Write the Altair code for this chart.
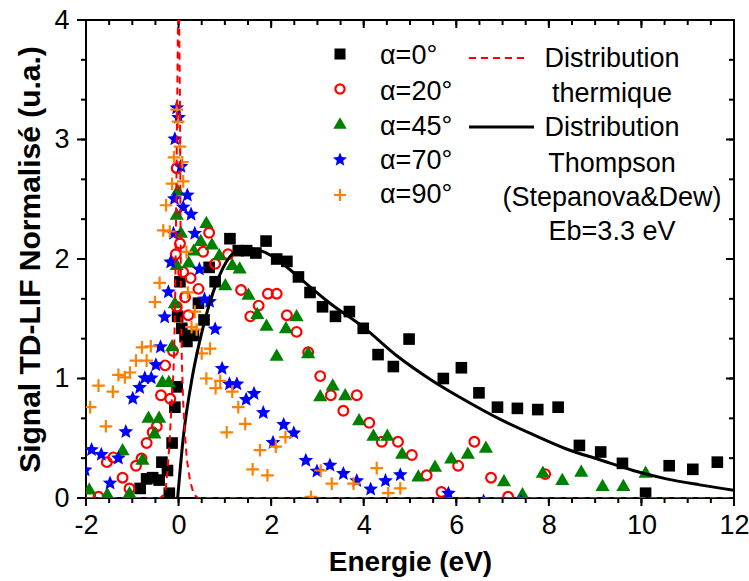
import math
import altair as alt
import pandas as pd

# ---------------- data ----------------
e_0 = [-0.83, -0.69, -0.56, -0.42, -0.36, -0.24, -0.20, -0.14, -0.08, -0.03,
       -0.02, 0.03, 0.07, 0.14, 0.18, 0.32, 0.43, 0.55, 0.66, 0.79,
       1.11, 1.29, 1.47, 1.67, 1.89, 2.12, 2.34, 2.59, 2.84, 3.11,
       3.39, 3.69, 3.99, 4.31, 4.64, 4.98, 5.72, 6.11, 6.49, 6.89,
       7.32, 7.76, 8.20, 8.66, 9.12, 9.59, 10.09, 10.60, 11.11, 11.64]
s_0 = [0.08, 0.16, 0.17, 0.15, 0.30, 0.23, 0.04, 0.46, 0.76, 0.93,
       1.52, 1.81, 1.42, 1.35, 1.31, 1.36, 1.63, 1.49, 1.93, 1.81,
       2.17, 2.07, 2.07, 2.05, 2.15, 2.00, 1.98, 1.85, 1.72, 1.60,
       1.52, 1.56, 1.42, 1.20, 1.10, 1.33, 1.00, 1.09, 0.88, 0.76,
       0.75, 0.74, 0.76, 0.44, 0.385, 0.29, 0.04, 0.27, 0.24, 0.30]

e_20 = [-1.91, -1.73, -1.55, -1.41, -1.21, -1.06, -0.92, -0.80, -0.69, -0.56,
        -0.47, -0.38, -0.29, -0.18, -0.12, -0.06, -0.04, -0.04, 0.03, 0.10,
        0.14, 0.21, 0.26, 0.43, 0.53, 0.66, 0.79, 1.07, 1.35, 1.55,
        1.73, 1.93, 2.12, 2.34, 2.55, 2.80, 3.06, 3.29, 3.56, 3.85,
        4.12, 4.39, 4.74, 5.04, 5.36, 5.68, 6.04, 6.39, 6.75, 7.12, 7.92]
s_20 = [0.02, 0.01, 0.30, 0.34, 0.17, 0.08, 0.27, 0.33, 0.46, 0.55,
        0.60, 0.86, 1.11, 0.83, 1.23, 2.04, 2.76, 1.60, 2.13, 1.89,
        1.68, 1.53, 1.84, 1.75, 2.06, 2.22, 1.96, 2.04, 1.74, 1.52,
        1.61, 1.71, 1.71, 1.53, 1.39, 1.22, 1.02, 0.86, 0.73, 0.86,
        0.63, 0.47, 0.47, 0.36, 0.19, 0.05, 0.27, 0.47, 0.17, 0.01, 0.20]

e_45 = [-1.93, -1.54, -1.21, -1.06, -0.78, -0.65, -0.52, -0.42, -0.35, -0.21,
        -0.14, -0.08, -0.04, -0.04, -0.02, 0.05, 0.22, 0.33, 0.48, 0.60,
        0.72, 0.88, 1.01, 1.16, 1.32, 1.51, 1.70, 1.90, 2.12, 2.32,
        2.55, 2.80, 3.06, 3.33, 3.60, 3.90, 4.21, 4.51, 4.83, 5.18,
        5.54, 5.89, 6.25, 6.64, 7.03, 7.43, 7.87, 8.29, 8.70, 9.16,
        9.61, 10.09]
s_45 = [0.08, 0.04, 0.41, 0.05, 0.33, 0.68, 0.55, 0.68, 0.98, 0.98,
        1.28, 1.64, 1.96, 2.38, 2.58, 2.23, 1.98, 2.08, 2.16, 2.31,
        2.13, 2.04, 1.79, 1.96, 1.93, 1.71, 1.55, 1.45, 1.20, 1.43,
        1.53, 1.22, 0.86, 0.95, 0.87, 0.66, 0.53, 0.53, 0.38, 0.19,
        0.27, 0.34, 0.38, 0.43, 0.15, 0.04, 0.22, 0.16, 0.23, 0.11,
        0.11, 0.22]

e_70 = [-2.02, -1.88, -1.67, -1.48, -1.30, -1.14, -0.99, -0.84, -0.73, -0.59,
        -0.49, -0.39, -0.30, -0.22, -0.17, -0.11, -0.09, -0.08, -0.04, 0.00,
        0.05, 0.10, 0.19, 0.27, 0.35, 0.45, 0.56, 0.67, 0.79, 0.94,
        1.10, 1.26, 1.46, 1.63, 1.83, 2.04, 2.27, 2.49, 2.75, 2.99,
        3.27, 3.56, 3.85, 4.15, 4.47, 4.79, 5.83, 6.59, 7.40]
s_70 = [0.24, 0.41, 0.37, 0.13, 0.34, 0.56, 0.84, 0.93, 1.01, 1.01,
        1.12, 1.27, 1.52, 1.73, 1.98, 2.22, 2.51, 3.01, 3.27, 3.19,
        2.78, 2.44, 2.54, 2.38, 2.22, 1.92, 1.67, 1.65, 1.42, 1.09,
        0.96, 0.96, 0.83, 0.88, 0.72, 0.47, 0.62, 0.55, 0.32, 0.23,
        0.28, 0.21, 0.15, 0.08, 0.15, 0.20, 0.045, -0.02, -0.02]

e_90 = [-1.91, -1.73, -1.57, -1.42, -1.30, -1.16, -1.05, -0.92, -0.79, -0.69,
        -0.60, -0.51, -0.41, -0.33, -0.27, -0.19, -0.14, -0.10, -0.04, -0.01,
        0.03, 0.08, 0.10, 0.17, 0.20, 0.28, 0.35, 0.39, 0.50, 0.60,
        0.68, 0.80, 0.90, 1.04, 1.16, 1.29, 1.44, 1.60, 1.76, 1.92,
        2.10, 2.31, 2.86, 3.07, 3.31, 3.78, 4.28, 4.53, 4.79]
s_90 = [0.76, 0.94, 0.60, 0.89, 1.03, 1.01, 1.05, 1.15, 1.26, 1.15,
        1.27, 1.64, 1.80, 2.24, 2.45, 2.23, 2.63, 2.85, 3.25, 3.15,
        2.94, 2.81, 2.65, 2.06, 1.72, 1.43, 1.56, 1.41, 1.21, 1.00,
        1.25, 0.92, 0.98, 0.55, 0.89, 0.76, 0.62, 0.24, 0.40, 0.19,
        0.43, 0.51, 0.01, 0.23, 0.12, 0.12, 0.25, 0.04, 0.08]

thermal_e = [-2.0, -0.40, -0.31, -0.27, -0.24, -0.20, -0.17, -0.14, -0.11, -0.09,
             -0.07, -0.05, -0.03, -0.01, 0.01, 0.03, 0.04, 0.05, 0.07, 0.10,
             0.14, 0.18, 0.25, 0.33, 0.42, 12.0]
thermal_s = [0.0, 0.0, 0.03, 0.10, 0.23, 0.43, 0.65, 0.87, 1.05, 1.32,
             1.80, 2.50, 3.30, 4.10, 4.10, 3.30, 2.50, 1.80, 1.15, 0.80,
             0.52, 0.32, 0.14, 0.03, 0.0, 0.0]

thompson_e = [-0.02, 0.10, 0.30, 0.53, 0.82, 1.11, 1.40, 1.76, 2.12, 2.41,
              2.62, 3.27, 3.99, 4.75, 5.45, 6.18, 6.94, 7.66, 8.38, 9.10,
              9.82, 10.54, 11.26, 12.0]
thompson_s = [0.0, 0.50, 1.02, 1.43, 1.80, 2.02, 2.09, 2.07, 2.00, 1.91,
              1.84, 1.63, 1.43, 1.18, 0.99, 0.82, 0.66, 0.53, 0.41, 0.32,
              0.23, 0.16, 0.11, 0.065]

series_labels = ["\u03b1=0\u00b0", "\u03b1=20\u00b0", "\u03b1=45\u00b0", "\u03b1=70\u00b0", "\u03b1=90\u00b0"]
thermal_label = ["Distribution", "thermique"]
thompson_label = ["Distribution", "Thompson", "(Stepanova&Dew)", "Eb=3.3 eV"]

x_major = [-2, 0, 2, 4, 6, 8, 10, 12]
x_minor = [v / 2 for v in range(-4, 25)]
y_major = [0, 1, 2, 3, 4]
y_minor = [k / 3 for k in range(0, 13)]

# ---------------- styling ----------------
FONT = "Liberation Sans"
W, H = 648, 478

star_pts = []
for k in range(10):
    r = 1.0 if k % 2 == 0 else 0.45
    a = -math.pi / 2 + k * math.pi / 5
    star_pts.append(f"{r * math.cos(a):.3f},{r * math.sin(a) + 0.1:.3f}")
STAR = "M" + "L".join(star_pts) + "Z"
PLUS = "M-1,0L1,0M0,-1L0,1"

styles = [
    dict(shape="square", filled=True, color="black", size=135, strokeWidth=0),
    dict(shape="circle", filled=False, color="#ff0000", size=95, strokeWidth=2.2),
    dict(shape="triangle-up", filled=True, color="#008000", size=200, strokeWidth=0),
    dict(shape=STAR, filled=True, color="#0000ff", size=240, strokeWidth=0),
    dict(shape=PLUS, filled=False, color="#ff8000", size=160, strokeWidth=2.2),
]

xs = alt.Scale(domain=[-2, 12], nice=False, zero=False)
ys = alt.Scale(domain=[0, 4], nice=False, zero=False)


def df(e, s):
    return pd.DataFrame({"E": e, "S": s})


def xy(xaxis=None, yaxis=None):
    return dict(x=alt.X("E:Q", scale=xs, axis=xaxis),
                y=alt.Y("S:Q", scale=ys, axis=yaxis))


layers = []

# axis layer for labels and titles (tick marks drawn separately below)
carrier = df(thermal_e, thermal_s)
ax_bottom = alt.Axis(orient="bottom", values=x_major, domain=False, grid=False,
                     ticks=True, tickSize=8, tickOpacity=0, labelFontSize=27,
                     labelFont=FONT, labelColor="black", labelPadding=6,
                     labelExpr="datum.value + ''", labelFlush=False,
                     title="Energie (eV)", titleFont=FONT, titleFontSize=28,
                     titleFontWeight="bold", titleColor="black", titlePadding=10)
ax_left = alt.Axis(orient="left", values=y_major, domain=False, grid=False,
                   ticks=True, tickSize=9, tickOpacity=0, labelFontSize=27,
                   labelFont=FONT, labelColor="black", labelPadding=8,
                   labelExpr="datum.value + ''", labelFlush=False,
                   title="Signal TD-LIF Normalis\u00e9 (u.a.)", titleFont=FONT,
                   titleFontSize=30, titleFontWeight="bold", titleColor="black",
                   titlePadding=8)
layers.append(alt.Chart(carrier).mark_point(opacity=0).encode(**xy(ax_bottom, ax_left)))


# tick marks through the scales
def xticks(vals, y0, y1):
    return alt.Chart(pd.DataFrame({"v": vals})).mark_rule(color="black", strokeWidth=2).encode(
        x=alt.X("v:Q", scale=xs, axis=None), y=alt.value(y0), y2=alt.value(y1))


def yticks(vals, x0, x1):
    return alt.Chart(pd.DataFrame({"v": vals})).mark_rule(color="black", strokeWidth=2).encode(
        y=alt.Y("v:Q", scale=ys, axis=None), x=alt.value(x0), x2=alt.value(x1))


layers += [
    xticks(x_major, H, H + 8), xticks(x_minor, H, H + 5),
    xticks(x_major, 0, 8), xticks(x_minor, 0, 5),
    yticks(y_major, -9, 0), yticks(y_minor, -5, 0),
    yticks(y_major, W - 8, W), yticks(y_minor, W - 5, W),
]

# data series
for (e, s), st in zip([(e_0, s_0), (e_20, s_20), (e_45, s_45), (e_70, s_70), (e_90, s_90)], styles):
    layers.append(
        alt.Chart(df(e, s)).mark_point(opacity=1, clip=True, **st).encode(**xy())
    )

# curves
layers.append(
    alt.Chart(df(thompson_e, thompson_s)).mark_line(
        color="black", strokeWidth=3, clip=True, interpolate="monotone"
    ).encode(**xy())
)
layers.append(
    alt.Chart(df(thermal_e, thermal_s)).mark_line(
        color="#ff0000", strokeWidth=2, strokeDash=[7, 5], clip=True
    ).encode(**xy())
)

# legend (manual, pixel layout)
one = pd.DataFrame({"k": [0]})
sym_x, txt_x = 340 - 86, 380 - 86
sym_y = [54, 89, 123, 159, 195]
txt_y = [56, 92, 127, 161, 195]
for st, lab, sy, ty in zip(styles, series_labels, sym_y, txt_y):
    leg_st = dict(st)
    leg_st["size"] = st["size"] * 0.9
    layers.append(alt.Chart(one).mark_point(opacity=1, **leg_st).encode(
        x=alt.value(sym_x), y=alt.value(sy - 20)))
    layers.append(alt.Chart(one).mark_text(
        font=FONT, fontSize=27, align="left", baseline="middle", color="black"
    ).encode(x=alt.value(txt_x), y=alt.value(ty - 20), text=alt.value(lab)))

layers.append(alt.Chart(one).mark_rule(color="#ff0000", strokeWidth=2, strokeDash=[7, 5]).encode(
    x=alt.value(469 - 86), x2=alt.value(529 - 86), y=alt.value(58 - 20)))
layers.append(alt.Chart(one).mark_rule(color="black", strokeWidth=3).encode(
    x=alt.value(469 - 86), x2=alt.value(534 - 86), y=alt.value(127 - 20)))

line_y = [59, 94, 128, 164, 198, 232]
for lab, ty in zip(thermal_label + thompson_label, line_y):
    layers.append(alt.Chart(one).mark_text(
        font=FONT, fontSize=27, align="center", baseline="middle", color="black"
    ).encode(x=alt.value(612 - 86), y=alt.value(ty - 20), text=alt.value(lab)))

chart = alt.layer(*layers).resolve_axis(x="independent", y="independent").properties(
    width=W, height=H,
    autosize=alt.AutoSizeParams(type="none"),
    padding={"left": 86, "top": 20, "right": 15, "bottom": 83},
    background="white",
).configure_view(stroke="black", strokeWidth=2)

chart.save("out.html", embed_options={"renderer": "svg", "actions": False})
